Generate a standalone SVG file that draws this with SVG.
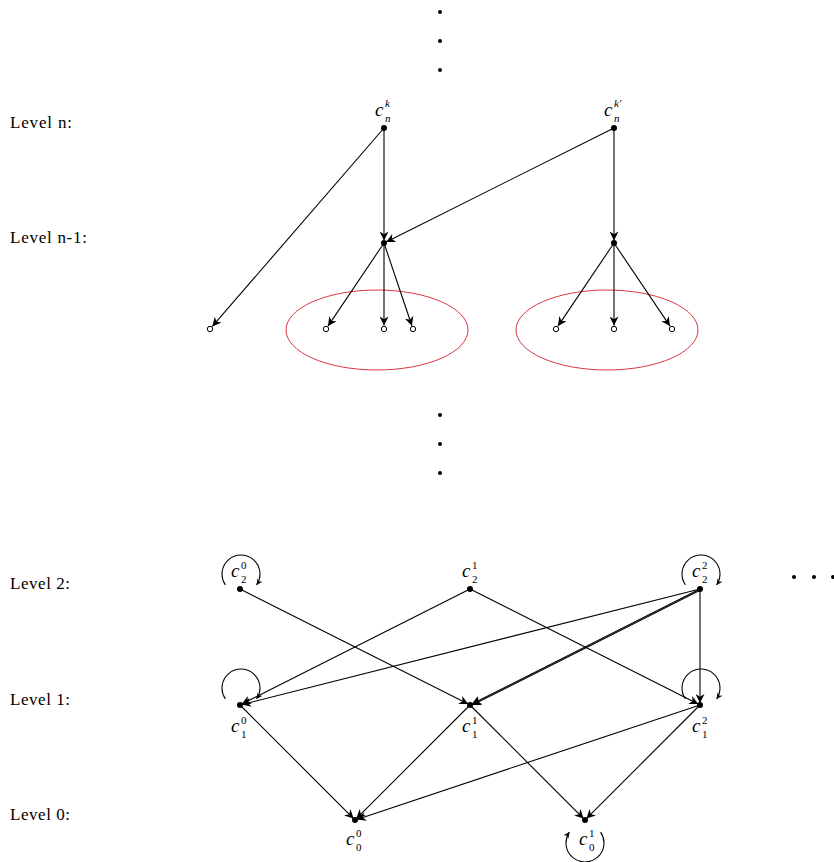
<svg xmlns="http://www.w3.org/2000/svg" width="834" height="862" viewBox="0 0 834 862">
<style>
.lvl{font-family:"Liberation Serif","Times New Roman","DejaVu Serif",serif;font-size:17px;fill:#000}
.c{font-family:"Liberation Serif","Times New Roman","DejaVu Serif",serif;font-size:19px;font-style:italic;fill:#000}
.s{font-size:11px;font-style:normal}
.si{font-size:11px;font-style:italic}
.e{stroke:#000;stroke-width:1.1;fill:none;marker-end:url(#ah)}
.l{stroke:#000;stroke-width:1.1;fill:none;marker-end:url(#ahs)}
.dot{fill:#000}
.open{fill:#fff;stroke:#000;stroke-width:1}
.grp{fill:none;stroke:#d9363e;stroke-width:1}
</style>
<defs>
<marker id="ah" viewBox="0 0 10 10" refX="10" refY="5" markerWidth="11" markerHeight="9" markerUnits="userSpaceOnUse" orient="auto">
<path d="M0,0 L10,5 L0,10 L3,5 z" fill="#000"/>
</marker>
<marker id="ahs" viewBox="0 0 10 10" refX="10" refY="5" markerWidth="7" markerHeight="6" markerUnits="userSpaceOnUse" orient="auto">
<path d="M0,0 L10,5 L0,10 L3,5 z" fill="#000"/>
</marker>
</defs>

<g id="level-labels">
<text class="lvl" x="10" y="128" textLength="62">Level n:</text>
<text class="lvl" x="10" y="243" textLength="77">Level n-1:</text>
<text class="lvl" x="10" y="589" textLength="60">Level 2:</text>
<text class="lvl" x="10" y="705" textLength="60">Level 1:</text>
<text class="lvl" x="10" y="820" textLength="60">Level 0:</text>
</g>

<g id="ellipsis-dots">
<circle class="dot" cx="440" cy="12" r="2"/>
<circle class="dot" cx="440" cy="41" r="2"/>
<circle class="dot" cx="440" cy="70" r="2"/>
<circle class="dot" cx="440" cy="415" r="2"/>
<circle class="dot" cx="440" cy="444" r="2"/>
<circle class="dot" cx="440" cy="473" r="2"/>
<circle class="dot" cx="794" cy="577" r="2"/>
<circle class="dot" cx="814" cy="577" r="2"/>
<circle class="dot" cx="833" cy="577" r="2"/>
</g>

<g id="groups">
<ellipse class="grp" cx="377" cy="330" rx="91" ry="40"/>
<ellipse class="grp" cx="607" cy="330" rx="91" ry="40"/>
</g>

<g id="connectors">
<line class="e" x1="384" y1="128" x2="212.3" y2="326.4"/>
<line class="e" x1="384" y1="128" x2="384" y2="240.5"/>
<line class="e" x1="614" y1="128" x2="386.2" y2="241.9"/>
<line class="e" x1="614" y1="128" x2="614" y2="240.5"/>
<line class="e" x1="384" y1="243" x2="328" y2="326.1"/>
<line class="e" x1="384" y1="243" x2="384" y2="325.5"/>
<line class="e" x1="384" y1="243" x2="411.9" y2="325.7"/>
<line class="e" x1="614" y1="243" x2="558" y2="326.1"/>
<line class="e" x1="614" y1="243" x2="614" y2="325.5"/>
<line class="e" x1="614" y1="243" x2="670" y2="326.1"/>

<line class="e" x1="240" y1="589" x2="468.2" y2="704.1"/>
<line class="e" x1="470" y1="589" x2="241.8" y2="704.1"/>
<line class="e" x1="470" y1="589" x2="698.2" y2="704.1"/>
<line class="e" x1="700" y1="589" x2="241.9" y2="704.5"/>
<line class="e" x1="700" y1="589" x2="471.8" y2="704.1"/>
<line class="e" x1="700.5" y1="590" x2="472.3" y2="705.1"/>
<line class="e" x1="700" y1="589" x2="700" y2="703"/>
<line class="e" x1="240" y1="705" x2="353.6" y2="818.6"/>
<line class="e" x1="470" y1="705" x2="356.4" y2="818.6"/>
<line class="e" x1="470" y1="705" x2="583.6" y2="818.6"/>
<line class="e" x1="700" y1="705" x2="356.9" y2="819.4"/>
<line class="e" x1="700" y1="705" x2="586.4" y2="818.6"/>

<path class="l" d="M225.4,584.9 A19,19 0 1 1 256.6,584.9"/>
<path class="l" d="M685.4,584.9 A19,19 0 1 1 716.6,584.9"/>
<path class="l" d="M225.4,698.9 A19,19 0 1 1 256.6,698.9"/>
<path class="l" d="M685.4,698.9 A19,19 0 1 1 716.6,698.9"/>
<path class="l" d="M600.6,832.1 A19,19 0 1 1 569.4,832.1"/>
</g>

<g id="cnk">
<circle class="dot" cx="384" cy="128" r="3"/>
<text class="c" x="375" y="116">c<tspan class="si" x="385" y="106.5">k</tspan><tspan class="si" x="385" y="121.5">n</tspan></text>
</g>
<g id="cnk2">
<circle class="dot" cx="614" cy="128" r="3"/>
<text class="c" x="604" y="116">c<tspan class="si" x="614" y="106.5">k′</tspan><tspan class="si" x="614" y="121.5">n</tspan></text>
</g>
<g id="n1a"><circle class="dot" cx="384" cy="243" r="3"/></g>
<g id="n1b"><circle class="dot" cx="614" cy="243" r="3"/></g>
<g id="leaf1"><circle class="open" cx="210" cy="329" r="2.7"/></g>
<g id="leaf2"><circle class="open" cx="326" cy="329" r="2.7"/></g>
<g id="leaf3"><circle class="open" cx="384" cy="329" r="2.7"/></g>
<g id="leaf4"><circle class="open" cx="413" cy="329" r="2.7"/></g>
<g id="leaf5"><circle class="open" cx="556" cy="329" r="2.7"/></g>
<g id="leaf6"><circle class="open" cx="614" cy="329" r="2.7"/></g>
<g id="leaf7"><circle class="open" cx="672" cy="329" r="2.7"/></g>

<g id="c20">
<circle class="dot" cx="240" cy="589" r="3"/>
<text class="c" x="231" y="577">c<tspan class="s" x="241" y="568.5">0</tspan><tspan class="s" x="241" y="583">2</tspan></text>
</g>
<g id="c21">
<circle class="dot" cx="470" cy="589" r="3"/>
<text class="c" x="462" y="577">c<tspan class="s" x="472" y="568.5">1</tspan><tspan class="s" x="472" y="583">2</tspan></text>
</g>
<g id="c22">
<circle class="dot" cx="700" cy="589" r="3"/>
<text class="c" x="692" y="577">c<tspan class="s" x="702" y="568.5">2</tspan><tspan class="s" x="702" y="583">2</tspan></text>
</g>
<g id="c10">
<circle class="dot" cx="240" cy="705" r="3"/>
<text class="c" x="231" y="732">c<tspan class="s" x="241" y="723.5">0</tspan><tspan class="s" x="241" y="738">1</tspan></text>
</g>
<g id="c11">
<circle class="dot" cx="470" cy="705" r="3"/>
<text class="c" x="462" y="732">c<tspan class="s" x="472" y="723.5">1</tspan><tspan class="s" x="472" y="738">1</tspan></text>
</g>
<g id="c12">
<circle class="dot" cx="700" cy="705" r="3"/>
<text class="c" x="692" y="732">c<tspan class="s" x="702" y="723.5">2</tspan><tspan class="s" x="702" y="738">1</tspan></text>
</g>
<g id="c00">
<circle class="dot" cx="355" cy="820" r="3"/>
<text class="c" x="346" y="845">c<tspan class="s" x="356" y="836.5">0</tspan><tspan class="s" x="356" y="851">0</tspan></text>
</g>
<g id="c01">
<circle class="dot" cx="585" cy="820" r="3"/>
<text class="c" x="579" y="845">c<tspan class="s" x="589" y="836.5">1</tspan><tspan class="s" x="589" y="851">0</tspan></text>
</g>
</svg>
